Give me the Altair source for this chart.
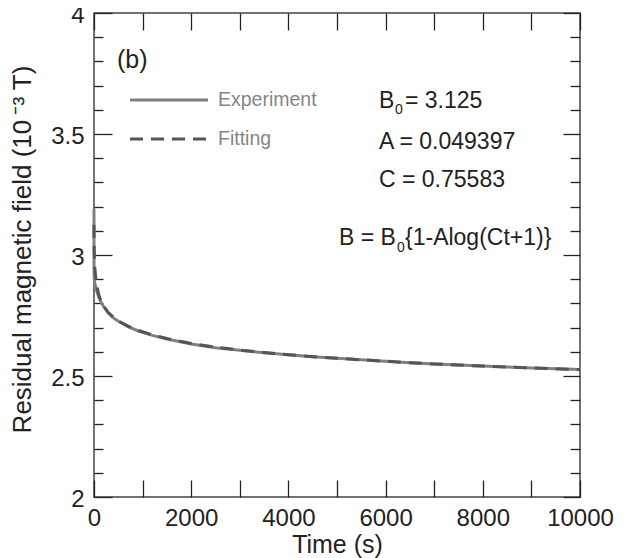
import altair as alt
import pandas as pd

# ---- data ----
exp_time = [0, 0, 5, 20, 60, 100, 150, 200, 300, 400, 500, 700, 900, 1200, 1500,
            2000, 2500, 3000, 3500, 4000, 4500, 5000, 5500, 6000, 6500, 7000,
            7500, 8000, 8500, 9000, 9500, 10000]
exp_field = [3.19, 2.95, 2.90, 2.88, 2.85, 2.825, 2.803, 2.786, 2.759, 2.740, 2.726,
             2.704, 2.687, 2.668, 2.653, 2.632, 2.617, 2.606, 2.596, 2.588, 2.580,
             2.573, 2.567, 2.561, 2.555, 2.550, 2.545, 2.541, 2.537, 2.533, 2.530, 2.527]

fit_time = [0, 2, 5, 10, 20, 50, 100, 150, 200, 300, 400, 500, 700, 900, 1200, 1500,
            2000, 2500, 3000, 3500, 4000, 4500, 5000, 5500, 6000, 6500, 7000,
            7500, 8000, 8500, 9000, 9500, 10000]
fit_field = [3.125, 3.063, 3.020, 2.981, 2.939, 2.880, 2.834, 2.806, 2.788, 2.761,
             2.743, 2.728, 2.706, 2.689, 2.670, 2.655, 2.634, 2.619, 2.607, 2.597,
             2.588, 2.580, 2.573, 2.567, 2.561, 2.555, 2.550, 2.545, 2.541, 2.537,
             2.533, 2.530, 2.526]

x_ticks = [0, 1000, 2000, 3000, 4000, 5000, 6000, 7000, 8000, 9000, 10000]
y_major = [2.0, 2.5, 3.0, 3.5, 4.0]
y_minor = [2.1, 2.2, 2.3, 2.4, 2.6, 2.7, 2.8, 2.9, 3.1, 3.2, 3.3, 3.4, 3.6, 3.7, 3.8, 3.9]

series_names = ["Experiment", "Fitting"]
panel_label = "(b)"
param_lines = ["= 3.125", "A = 0.049397", "C = 0.75583"]
formula_parts = ["B = B", "{1-Alog(Ct+1)}"]

FONT = "Liberation Sans"
INK = "#222222"
EXP_COLOR = "#808080"
FIT_COLOR = "#555555"

exp_df = pd.DataFrame({"t": exp_time, "B": exp_field, "i": list(range(len(exp_time)))})
fit_df = pd.DataFrame({"t": fit_time, "B": fit_field, "i": list(range(len(fit_time)))})
one = pd.DataFrame({"a": [0]})

xs = alt.Scale(domain=[0, 10000], nice=False, zero=False)
ys = alt.Scale(domain=[2, 4], nice=False, zero=False)

common = dict(grid=False, domain=False, ticks=True, tickColor=INK, tickWidth=1.3)

ax_bottom = alt.Axis(orient="bottom", values=x_ticks, tickSize=17, offset=-17,
                     format="d", labelExpr="datum.value % 2000 === 0 ? datum.label : ''",
                     labelFont=FONT, labelFontSize=24, labelColor=INK, labelPadding=9,
                     labelFlush=False, labelOverlap=False,
                     title="Time (s)", titleFont=FONT, titleFontSize=25,
                     titleFontWeight="normal", titleColor=INK, titlePadding=2, **common)
ax_top = alt.Axis(orient="top", values=x_ticks, tickSize=17, offset=-17,
                  labels=False, title=None, **common)
ax_left_major = alt.Axis(orient="left", values=y_major, tickSize=18, offset=-18,
                         format=".1~f", labelFont=FONT, labelFontSize=24, labelColor=INK,
                         labelPadding=10, labelOffset=2.5, labelFlush=False, labelOverlap=False,
                         title="Residual magnetic field (10\u2009⁻³ T)", titleFont=FONT,
                         titleFontSize=26, titleFontWeight="normal", titleColor=INK,
                         titlePadding=15, titleY=236, **common)
ax_left_minor = alt.Axis(orient="left", values=y_minor, tickSize=9, offset=-9,
                         labels=False, title=None, **common)
ax_right_major = alt.Axis(orient="right", values=y_major, tickSize=17, offset=-17,
                          labels=False, title=None, **common)
ax_right_minor = alt.Axis(orient="right", values=y_minor, tickSize=10, offset=-10,
                          labels=False, title=None, **common)

exp_line = alt.Chart(exp_df).mark_line(color=EXP_COLOR, strokeWidth=3).encode(
    x=alt.X("t:Q", scale=xs, axis=ax_bottom),
    y=alt.Y("B:Q", scale=ys, axis=ax_left_major),
    order="i:Q")
fit_line = alt.Chart(fit_df).mark_line(color=FIT_COLOR, strokeWidth=3,
                                       strokeDash=[13, 8]).encode(
    x=alt.X("t:Q", scale=xs, axis=ax_top),
    y=alt.Y("B:Q", scale=ys, axis=ax_left_minor),
    order="i:Q")
right_major = alt.Chart(exp_df).mark_point(opacity=0).encode(
    x=alt.X("t:Q", scale=xs, axis=None),
    y=alt.Y("B:Q", scale=ys, axis=ax_right_major))
right_minor = alt.Chart(exp_df).mark_point(opacity=0).encode(
    x=alt.X("t:Q", scale=xs, axis=None),
    y=alt.Y("B:Q", scale=ys, axis=ax_right_minor))

# legend samples
leg_exp = alt.Chart(one).mark_rule(color=EXP_COLOR, strokeWidth=3).encode(
    x=alt.value(36), x2=alt.value(114), y=alt.value(87))
leg_fit = alt.Chart(one).mark_rule(color=FIT_COLOR, strokeWidth=3, strokeDash=[13, 8]).encode(
    x=alt.value(36), x2=alt.value(114), y=alt.value(126))


def txt(s, x, y, size=23, color=INK):
    return alt.Chart(one).mark_text(text=s, align="left", baseline="middle", font=FONT,
                                    fontSize=size, color=color).encode(
        x=alt.value(x), y=alt.value(y))


texts = [
    txt(panel_label, 23, 47, 25),
    txt(series_names[0], 124, 87, 19.5, "#858585"),
    txt(series_names[1], 124, 126, 19.5, "#858585"),
    txt("B", 285, 88),
    txt("0", 301, 97, 14),
    txt(param_lines[0], 311, 88),
    txt(param_lines[1], 285, 129),
    txt(param_lines[2], 285, 167),
    txt(formula_parts[0], 245, 225),
    txt("0", 303, 235, 14),
    txt(formula_parts[1], 311, 225),
]

chart = alt.layer(exp_line, fit_line, right_major, right_minor, leg_exp, leg_fit, *texts).resolve_axis(
    x="independent", y="independent"
).properties(
    width=486, height=484,
    autosize=alt.AutoSizeParams(type="none"),
    padding={"left": 86, "top": 5, "right": 41, "bottom": 61},
    background="white",
).configure_view(stroke="#444444", strokeWidth=1.5)

chart.save("out.html", embed_options={"renderer": "svg", "actions": False})
